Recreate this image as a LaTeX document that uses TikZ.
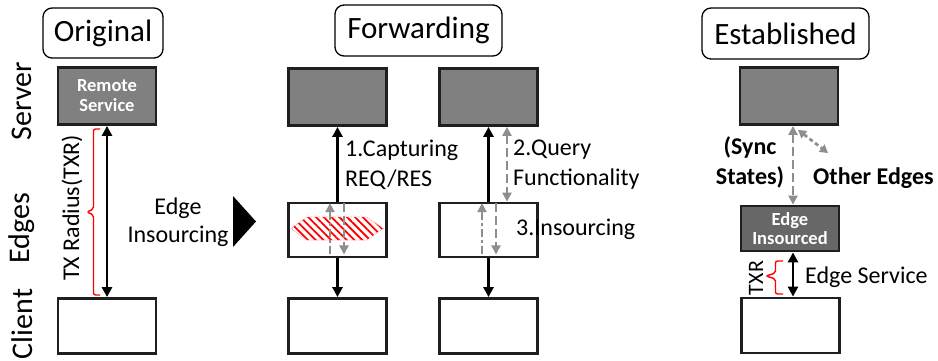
\documentclass[tikz,border=0pt]{standalone}
\usepackage{fontspec}
\setmainfont{Carlito}
\usetikzlibrary{arrows.meta,patterns.meta}
\definecolor{boxgray}{HTML}{808080}
\definecolor{edgegray}{HTML}{676767}
\definecolor{arrgray}{HTML}{8E8E8E}
\definecolor{bracered}{HTML}{FF0000}
\begin{document}
\begin{tikzpicture}[x=1pt,y=-1pt,
  titlebox/.style={draw=black,line width=1.3pt,rounded corners=9pt,inner sep=0pt,
    font=\fontsize{31}{36}\selectfont},
  plainbox/.style={draw=black!88,line width=2.8pt,inner sep=0pt,align=center,
    minimum width=98pt},
  srvbox/.style={plainbox,fill=boxgray,minimum height=57pt,
    text=white,font=\bfseries\fontsize{18.5}{22}\selectfont},
  edgebox/.style={plainbox,minimum height=54pt},
  clibox/.style={plainbox,minimum height=55pt},
  insbox/.style={plainbox,fill=edgegray,minimum height=45pt,
    text=white,font=\bfseries\fontsize{18.5}{21}\selectfont},
  blackarr/.style={line width=2.9pt,draw=black,-{Triangle[length=10pt,width=10pt]}},
  blackdbl/.style={line width=2.9pt,draw=black,{Triangle[length=10pt,width=10pt]}-{Triangle[length=10pt,width=10pt]}},
  grayarr/.style={line width=2.9pt,draw=arrgray,-{Triangle[length=9pt,width=9pt]}},
  graydash/.style={grayarr,dash pattern=on 9pt off 4pt},
  graydashdot/.style={grayarr,dash pattern=on 8pt off 3pt on 3pt off 3pt},
  graydbl/.style={line width=2.9pt,draw=arrgray,dash pattern=on 9pt off 4pt,
    {Triangle[length=9pt,width=9pt]}-{Triangle[length=9pt,width=9pt]}},
  graydbldot/.style={line width=2.7pt,draw=arrgray,dash pattern=on 4pt off 3pt,
    {Triangle[length=8pt,width=9pt]}-{Triangle[length=8pt,width=9pt]}},
  lbl/.style={font=\fontsize{24}{30}\selectfont,inner sep=0pt,align=left},
  blbl/.style={font=\bfseries\fontsize{24}{30}\selectfont,inner sep=0pt,align=center},
  side/.style={font=\fontsize{30}{36}\selectfont,inner sep=0pt,rotate=90},
  bracestyle/.style={draw=bracered,line width=1.4pt,rounded corners=2pt}
]
\useasboundingbox (0,0) rectangle (938,360);

% side labels
\node[side] (lsrv) at (22,101) {Server};
\node[side] (ledg) at (22,228) {Edges};
\node[side] (lcli) at (22,324) {Client};

% ---------- Original ----------
\node[titlebox,minimum width=120pt,minimum height=50pt] (t1) at (103,33) {Original};
\node[srvbox] (srv0) at (107,96) {Remote\\[-2pt]Service};
\node[clibox] (cli0) at (107,326) {};
\draw[blackdbl] (srv0.south) -- (cli0.north);
\draw[bracestyle] (100,129) -- (93.5,129) -- (93.5,209) -- (87,212) -- (93.5,215) -- (93.5,295) -- (100,295);
\node[font=\fontsize{24}{28}\selectfont,inner sep=0pt,rotate=90] (txr0) at (72,208) {TX Radius(TXR)};
\node[font=\fontsize{24}{28}\selectfont,inner sep=0pt,align=center] (ei) at (178,222) {Edge\\Insourcing};
\fill[black] (233,196) -- (256,221.5) -- (233,247) -- cycle;

% ---------- Forwarding ----------
\node[titlebox,minimum width=167pt,minimum height=51pt] (t2) at (418.5,30.5) {Forwarding};
\node[srvbox] (srvA) at (337.5,97) {};
\node[edgebox] (edgA) at (337.5,230) {};
\node[clibox] (cliA) at (337.5,326) {};
\fill[pattern={Lines[angle=-45,distance=5.5pt,line width=1.8pt]},pattern color=red]
  (291,228.5) -- (307,217) -- (367,217) -- (383,228.5) -- (367,240) -- (307,240) -- cycle;
\draw[red!55,densely dotted,line width=0.6pt]
  (291,228.5) -- (307,217) -- (367,217) -- (383,228.5) -- (367,240) -- (307,240) -- cycle;
\draw[blackarr] (edgA.north) -- (srvA.south);
\draw[blackarr] (edgA.south) -- (cliA.north);
\draw[graydashdot] ([xshift=-7.5pt,yshift=4pt]edgA.south) -- ([xshift=-7.5pt,yshift=-1.5pt]edgA.north);
\draw[graydash] ([xshift=6.5pt,yshift=-1.5pt]edgA.north) -- ([xshift=6.5pt,yshift=4pt]edgA.south);
\node[lbl,anchor=west] (capt) at (345,165) {1.Capturing\\REQ/RES};

\node[srvbox] (srvB) at (488.5,97) {};
\node[edgebox] (edgB) at (488.5,230) {};
\node[clibox] (cliB) at (488.5,326) {};
\draw[blackarr] (edgB.north) -- (srvB.south);
\draw[blackarr] (edgB.south) -- (cliB.north);
\draw[graydbl] ([xshift=18.5pt]srvB.south) -- ([xshift=18.5pt]edgB.north);
\draw[graydashdot] ([xshift=-6.5pt,yshift=4pt]edgB.south) -- ([xshift=-6.5pt,yshift=-1.5pt]edgB.north);
\draw[graydash] ([xshift=7.5pt,yshift=-1.5pt]edgB.north) -- ([xshift=7.5pt,yshift=4pt]edgB.south);
\node[lbl,anchor=west] (query) at (513,165) {2.Query\\Functionality};
\node[lbl,anchor=west] (ins) at (516,229) {3.Insourcing};

% ---------- Established ----------
\node[titlebox,minimum width=167pt,minimum height=51pt] (t3) at (785.5,33.5) {Established};
\node[srvbox] (srvC) at (789,96) {};
\node[insbox] (edgC) at (790,228.5) {Edge\\[-2pt]Insourced};
\node[clibox] (cliC) at (790.5,325.5) {};
\draw[graydbl] ([xshift=4pt]srvC.south) -- ([xshift=3pt]edgC.north);
\coordinate (oth) at (828,153);
\draw[graydbldot] ([xshift=9pt,yshift=-4pt]srvC.south) -- (oth);
\node[blbl] (sync) at (750,162) {(Sync\\States)};
\node[blbl,anchor=west] (other) at (813,178) {Other Edges};
\draw[blackdbl] ([xshift=3pt]edgC.south) -- ([xshift=2.5pt]cliC.north);
\draw[bracestyle] (783,261) -- (775.5,261) -- (775.5,273) -- (766,276) -- (775.5,279) -- (775.5,294) -- (783,294);
\node[font=\fontsize{22}{26}\selectfont,inner sep=0pt,rotate=90] (txr1) at (756,278) {TXR};
\node[lbl,anchor=west] (esvc) at (805,277) {Edge Service};
\end{tikzpicture}
\end{document}
